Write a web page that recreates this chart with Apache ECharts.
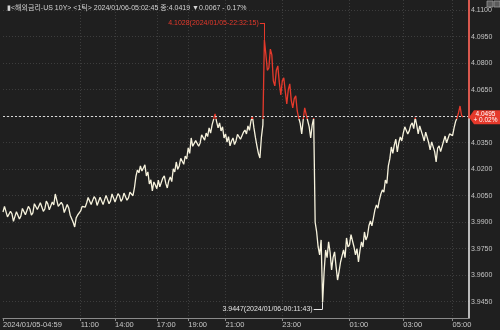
<!DOCTYPE html>
<html><head><meta charset="utf-8">
<script src="https://cdn.jsdelivr.net/npm/echarts@6/dist/echarts.min.js"></script>
<style>html,body{margin:0;padding:0;background:#1f1f1f}#c{width:500px;height:330px}</style>
</head><body><div id="c"></div>
<script>
const titleText = '▮<해외금리-US 10Y> <1틱> 2024/01/06-05:02:45 종:4.0419 ▼0.0067 - 0.17%';
const tickLabels = ['2024/01/05-04:59','11:00','14:00','17:00','19:00','21:00','23:00','01:00','03:00','05:00'];
const tickIndex = [0,52,75,103,124,149,187,232,268,301];
const categoryCount = 313;
const yTicks = [3.945,3.96,3.975,3.99,4.005,4.02,4.035,4.05,4.065,4.08,4.095,4.11];
const yMin = 3.9358, yMax = 4.1158;
const baseValue = 4.0487;
const lastValue = 4.0495;
const lastChange = '+ 0.02%';
const maxLabel = '4.1028(2024/01/05-22:32:15)', maxValue = 4.1028, maxIndex = 175;
const minLabel = '3.9447(2024/01/06-00:11:43)', minValue = 3.9447, minIndex = 214;
const prices = [
3.9958,3.9990,3.9981,3.9930,3.9924,3.9962,3.9947,3.9905,3.9913,3.9960,
3.9953,3.9918,3.9936,3.9978,3.9970,3.9942,3.9953,3.9990,3.9975,3.9940,
3.9953,4.0005,4.0009,3.9972,3.9970,4.0010,4.0004,3.9962,3.9975,4.0020,
4.0004,3.9970,3.9981,4.0015,3.9998,4.0060,4.0049,3.9990,3.9981,4.0012,
3.9998,3.9955,3.9964,4.0000,3.9981,3.9940,3.9936,3.9900,3.9873,3.9925,
3.9941,3.9935,3.9964,3.9990,3.9998,3.9985,4.0009,4.0040,4.0049,4.0000,
4.0004,4.0045,4.0032,3.9995,4.0004,4.0042,4.0038,4.0000,4.0009,4.0052,
4.0043,4.0005,4.0021,4.0060,4.0055,4.0015,4.0021,4.0062,4.0049,4.0018,
4.0032,4.0065,4.0055,4.0025,4.0038,4.0070,4.0060,4.0050,4.0094,4.0160,
4.0196,4.0180,4.0219,4.0190,4.0207,4.0225,4.0162,4.0185,4.0117,4.0140,
4.0077,4.0128,4.0111,4.0090,4.0139,4.0100,4.0105,4.0150,4.0162,4.0120,
4.0094,4.0135,4.0156,4.0130,4.0202,4.0185,4.0241,4.0200,4.0219,4.0262,
4.0253,4.0228,4.0275,4.0258,4.0321,4.0290,4.0377,4.0330,4.0321,4.0362,
4.0366,4.0330,4.0349,4.0395,4.0388,4.0365,4.0405,4.0385,4.0434,4.0405,
4.0451,4.0440,4.0513,4.0470,4.0434,4.0462,4.0417,4.0440,4.0377,4.0400,
4.0354,4.0385,4.0332,4.0360,4.0377,4.0340,4.0360,4.0398,4.0405,4.0370,
4.0360,4.0410,4.0422,4.0400,4.0445,4.0420,4.0473,4.0500,4.0434,4.0380,
4.0332,4.0290,4.0264,4.0380,4.0451,4.0932,4.0850,4.0760,4.0773,4.0880,
4.0847,4.0700,4.0672,4.0760,4.0785,4.0690,4.0621,4.0700,4.0717,4.0640,
4.0570,4.0650,4.0683,4.0590,4.0547,4.0600,4.0615,4.0530,4.0490,4.0460,
4.0400,4.0480,4.0547,4.0510,4.0502,4.0440,4.0377,4.0450,4.0490,3.9900,
3.9845,3.9760,3.9715,3.9800,3.9447,3.9620,3.9743,3.9700,3.9789,3.9730,
3.9630,3.9700,3.9732,3.9650,3.9573,3.9620,3.9675,3.9710,3.9743,3.9700,
3.9811,3.9760,3.9772,3.9830,3.9822,3.9760,3.9715,3.9750,3.9675,3.9740,
3.9789,3.9760,3.9845,3.9800,3.9822,3.9880,3.9907,3.9880,3.9924,3.9970,
3.9998,3.9980,4.0026,4.0060,4.0083,4.0070,4.0139,4.0120,4.0219,4.0260,
4.0326,4.0290,4.0338,4.0370,4.0298,4.0350,4.0383,4.0360,4.0405,4.0440,
4.0434,4.0400,4.0417,4.0450,4.0462,4.0430,4.0492,4.0450,4.0400,4.0445,
4.0434,4.0390,4.0360,4.0410,4.0400,4.0350,4.0309,4.0355,4.0366,4.0300,
4.0241,4.0320,4.0332,4.0300,4.0309,4.0360,4.0388,4.0350,4.0343,4.0400,
4.0411,4.0390,4.0434,4.0470,4.0490,4.0520,4.0558,4.0505,4.0495
];
const maxLabelIndex = 172, minLabelIndex = 208;
const minLabelValue = 3.9409;

const categories = [];
for (let i = 0; i < categoryCount; i++) {
  const k = tickIndex.indexOf(i);
  categories.push(k >= 0 ? tickLabels[k] : '');
}
const showTick = (i) => tickIndex.indexOf(i) >= 0;
const RED = '#e5392b', CREAM = '#f6f2dc';
const FONT = '"Liberation Sans","Noto Sans CJK KR",sans-serif';
const FS = 7;

const chart = echarts.init(document.getElementById('c'), null, {renderer:'canvas'});
function lineColor(t) {
  return {type: 'linear', x: 0, y: 0, x2: 0, y2: 330, global: true,
    colorStops: [{offset: 0, color: RED}, {offset: t, color: RED}, {offset: t, color: CREAM}, {offset: 1, color: CREAM}]};
}
chart.setOption({
  backgroundColor: '#1f1f1f',
  animation: false,
  title: {
    text: titleText, left: 2, top: 0,
    textStyle: {color: '#d4d4d4', fontSize: FS, fontWeight: 'normal', fontFamily: FONT}
  },
  graphic: [
    {type:'rect', shape:{x:487,y:1,width:6,height:6}, style:{fill:'#5a5a5a', stroke:'#9a9a9a', lineWidth:0.8}},
    {type:'rect', shape:{x:494,y:1,width:6,height:6}, style:{fill:'#5a5a5a', stroke:'#9a9a9a', lineWidth:0.8}}
  ],
  grid: {left: 0, right: 31, top: 0, bottom: 12, containLabel: false},
  xAxis: {
    type: 'category', data: categories, boundaryGap: false,
    axisLine: {lineStyle: {color: '#8a8a8a', width: 1}},
    axisTick: {show: true, interval: (i) => showTick(i), length: 3, lineStyle: {color: '#8a8a8a'}},
    axisLabel: {interval: (i) => showTick(i), align: 'left', margin: 3, color: '#c8c8c8', fontSize: 7.5, fontFamily: FONT},
    splitLine: {show: true, interval: (i) => showTick(i) && i > 0, lineStyle: {color: '#3d3d3d', type: [1, 2]}}
  },
  yAxis: {
    type: 'value', position: 'right', min: yMin, max: yMax, scale: true,
    axisLine: {show: true, lineStyle: {color: '#eeeeee', width: 1.5}},
    axisTick: {show: false, customValues: yTicks},
    axisLabel: {customValues: yTicks, margin: 2, color: '#c4c4c4', fontSize: FS, fontFamily: FONT,
      formatter: (v) => v.toFixed(4)},
    splitLine: {show: true, lineStyle: {color: '#3d3d3d', type: [1, 2]}}
  },
  series: [{
    type: 'line', data: prices, showSymbol: false, clip: false,
    lineStyle: {width: 1.3, color: CREAM}, itemStyle: {color: CREAM},
    markLine: {
      silent: true, symbol: ['none','none'], animation: false,
      label: {show: false},
      data: [
        {yAxis: baseValue, lineStyle: {color: '#d8d8d8', type: [2, 2], width: 1}},
        [{coord: [categoryCount - 1, baseValue], lineStyle: {color: RED, width: 1.5, type: 'solid'}}, {coord: [categoryCount - 1, yMax]}],
        [{coord: [maxLabelIndex, maxValue], lineStyle: {color: RED, width: 1, type: 'solid'}}, {coord: [maxIndex, maxValue]}],
        [{coord: [maxIndex, maxValue], lineStyle: {color: RED, width: 1, type: 'solid'}}, {coord: [maxIndex, prices[maxIndex]]}],
        [{coord: [minLabelIndex, minLabelValue], lineStyle: {color: '#e8e8e8', width: 1, type: 'solid'}}, {coord: [minIndex, minLabelValue]}],
        [{coord: [minIndex, minLabelValue], lineStyle: {color: '#e8e8e8', width: 1, type: 'solid'}}, {coord: [minIndex, minValue]}]
      ]
    },
    markPoint: {
      silent: true, animation: false,
      data: [
        {coord: [maxLabelIndex, maxValue], symbol: 'circle', symbolSize: 0.1, itemStyle: {color: RED},
          label: {show: true, formatter: maxLabel, position: 'left', distance: 1, color: RED, fontSize: FS, fontFamily: FONT}},
        {coord: [minLabelIndex, minLabelValue], symbol: 'circle', symbolSize: 0.1, itemStyle: {color: '#e8e8e8'},
          label: {show: true, formatter: minLabel, position: 'left', distance: 1, color: '#e4e4e4', fontSize: FS, fontFamily: FONT}},
        {coord: [categoryCount - 1, lastValue], symbol: 'path://M0,7L5,0L31,0L31,14L5,14Z',
          symbolSize: [31, 14], symbolKeepAspect: false, symbolOffset: [15.5, 0], itemStyle: {color: RED},
          label: {show: true, position: 'inside', offset: [1, 0], formatter: lastValue.toFixed(4) + '\n' + lastChange,
            color: '#ffffff', fontSize: 6.5, lineHeight: 6.5, fontFamily: FONT}}
      ]
    }
  }]
});
const basePx = chart.convertToPixel({yAxisIndex: 0}, baseValue);
const t = basePx / 330;
chart.setOption({series: [{lineStyle: {color: lineColor(t)}}]});
</script></body></html>
